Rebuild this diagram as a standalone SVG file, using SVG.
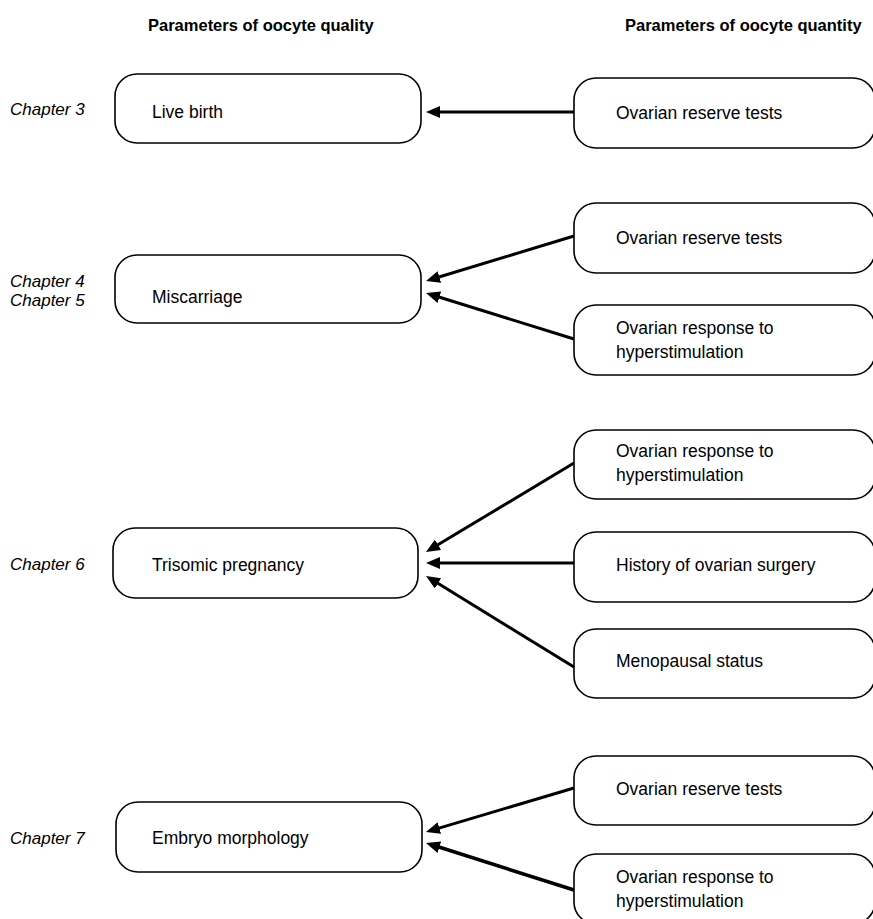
<svg xmlns="http://www.w3.org/2000/svg" width="873" height="919" viewBox="0 0 873 919">
<style>
  .box{fill:#fff;stroke:#000;stroke-width:1.6}
  .t{font-family:"Liberation Sans",Arial,sans-serif;font-size:17.5px;fill:#000}
  .ch{font-family:"Liberation Sans",Arial,sans-serif;font-size:17px;font-style:italic;fill:#000}
  .hd{font-family:"Liberation Sans",Arial,sans-serif;font-size:16.5px;font-weight:bold;fill:#000}
  .arr{stroke:#000;stroke-width:3;fill:none;marker-end:url(#ah)}
</style>
<defs>
  <marker id="ah" viewBox="0 0 14 12" refX="3" refY="6" markerWidth="14" markerHeight="12" markerUnits="userSpaceOnUse" orient="auto">
    <path d="M0,0 L14,6 L0,12 z" fill="#000"/>
  </marker>
</defs>
<rect width="873" height="919" fill="#fff"/>
<g id="headers">
  <text class="hd" x="148" y="31">Parameters of oocyte quality</text>
  <text class="hd" x="625" y="31">Parameters of oocyte quantity</text>
</g>
<g id="chapters">
  <text class="ch" x="10" y="115">Chapter 3</text>
  <text class="ch" x="10" y="287">Chapter 4</text>
  <text class="ch" x="10" y="306">Chapter 5</text>
  <text class="ch" x="10" y="570">Chapter 6</text>
  <text class="ch" x="10" y="844">Chapter 7</text>
</g>
<g id="connectors">
  <line class="arr" x1="574" y1="112" x2="437" y2="112"/>
  <line class="arr" x1="574" y1="236" x2="436.5" y2="277.8"/>
  <line class="arr" x1="574" y1="339" x2="436.5" y2="296.3"/>
  <line class="arr" x1="574" y1="463" x2="435.4" y2="546.3"/>
  <line class="arr" x1="574" y1="563" x2="437" y2="563"/>
  <line class="arr" x1="574" y1="667" x2="435.4" y2="581.8"/>
  <line class="arr" x1="574" y1="788" x2="436.5" y2="828.9"/>
  <line class="arr" x1="574" y1="890" x2="436.5" y2="846.3" style="stroke-width:3.6"/>
</g>
<g id="live-birth"><rect class="box" x="115" y="74" width="306" height="69" rx="22"/><text class="t" x="152" y="118">Live birth</text></g>
<g id="miscarriage"><rect class="box" x="115" y="255" width="306" height="68" rx="22"/><text class="t" x="152" y="303">Miscarriage</text></g>
<g id="trisomic"><rect class="box" x="113" y="528" width="305" height="70" rx="22"/><text class="t" x="152" y="571">Trisomic pregnancy</text></g>
<g id="embryo"><rect class="box" x="116" y="802" width="306" height="70" rx="22"/><text class="t" x="152" y="844">Embryo morphology</text></g>
<g id="ort1"><rect class="box" x="574" y="78" width="301" height="70" rx="22"/><text class="t" x="616" y="119">Ovarian reserve tests</text></g>
<g id="ort2"><rect class="box" x="574" y="203" width="301" height="70" rx="22"/><text class="t" x="616" y="244">Ovarian reserve tests</text></g>
<g id="orh1"><rect class="box" x="574" y="305" width="301" height="70" rx="22"/><text class="t" x="616" y="334">Ovarian response to</text><text class="t" x="616" y="358">hyperstimulation</text></g>
<g id="orh2"><rect class="box" x="574" y="430" width="301" height="69" rx="22"/><text class="t" x="616" y="457">Ovarian response to</text><text class="t" x="616" y="481">hyperstimulation</text></g>
<g id="surgery"><rect class="box" x="574" y="532" width="301" height="70" rx="22"/><text class="t" x="616" y="571">History of ovarian surgery</text></g>
<g id="menopause"><rect class="box" x="574" y="629" width="301" height="69" rx="22"/><text class="t" x="616" y="667">Menopausal status</text></g>
<g id="ort3"><rect class="box" x="574" y="756" width="301" height="69" rx="22"/><text class="t" x="616" y="795">Ovarian reserve tests</text></g>
<g id="orh3"><rect class="box" x="574" y="854" width="301" height="70" rx="22"/><text class="t" x="616" y="883">Ovarian response to</text><text class="t" x="616" y="907">hyperstimulation</text></g>
</svg>
